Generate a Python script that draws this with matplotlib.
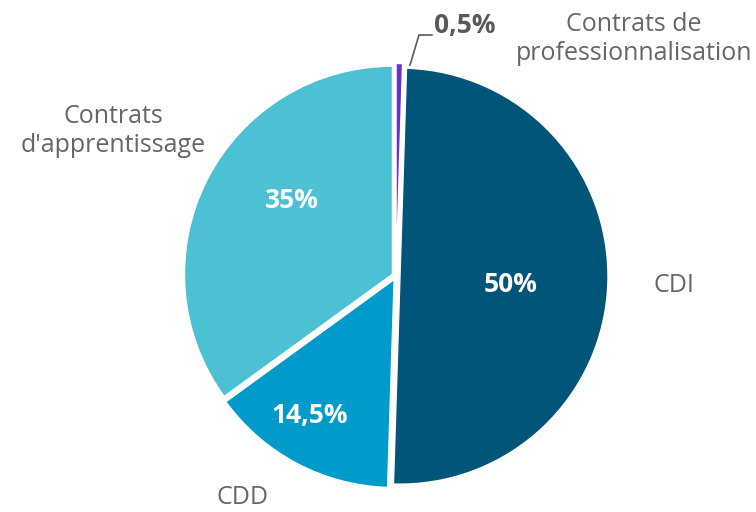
import matplotlib
matplotlib.use("Agg")
import matplotlib.pyplot as plt

# ============================================================
# DONNÉES
# ============================================================

categories = ["Contrats de\nprofessionnalisation", "CDI", "CDD", "Contrats\nd'apprentissage"]
values = [0.5, 50, 14.5, 35]
pct_labels = ["0,5%", "50%", "14,5%", "35%"]
colors = ["#6633CC", "#005578", "#009BCB", "#4BC1D3"]

plt.rcParams["font.family"] = ["Open Sans", "DejaVu Sans"]

# ============================================================
# FIGURE
# ============================================================

fig = plt.figure(figsize=(7.56, 5.12), dpi=100)
ax = fig.add_axes([0, 0, 1, 1])

cx, cy, r = 396, 236, 208

# explode en unités de données (pixels ici)
wedges, _ = ax.pie(
    values,
    colors=colors,
    startangle=90,
    counterclock=False,
    center=(cx, cy),
    radius=r,
    explode=[4.5, 4, 4, 4],
    frame=True,
    wedgeprops=dict(edgecolor="white", linewidth=1),
)
ax.set_xlim(0, 756)
ax.set_ylim(0, 512)
ax.set_aspect("equal")
ax.axis("off")

gray = "#666666"
dark = "#595959"

# pourcentages
ax.text(511, 227, pct_labels[1], color="white", fontsize=19, weight="bold", ha="center", va="center")
ax.text(292, 312, pct_labels[3], color="white", fontsize=19, weight="bold", ha="center", va="center")
ax.text(310, 97, pct_labels[2], color="white", fontsize=19, weight="bold", ha="center", va="center")
ax.text(434, 487, pct_labels[0], color=dark, fontsize=19, weight="bold", ha="left", va="center")

# trait de rappel
ax.plot([410, 419, 432], [447, 477, 477], color=dark, linewidth=1.2)

# catégories
ax.text(674, 227, categories[1], color=gray, fontsize=18, ha="center", va="center")
ax.text(243, 15, categories[2], color=gray, fontsize=18, ha="center", va="center")
ax.text(113, 381, categories[3], color=gray, fontsize=18, ha="center", va="center", linespacing=1.25)
ax.text(634, 473, categories[0], color=gray, fontsize=18, ha="center", va="center", linespacing=1.25)

fig.savefig("out.png", dpi=100)
plt.close()
